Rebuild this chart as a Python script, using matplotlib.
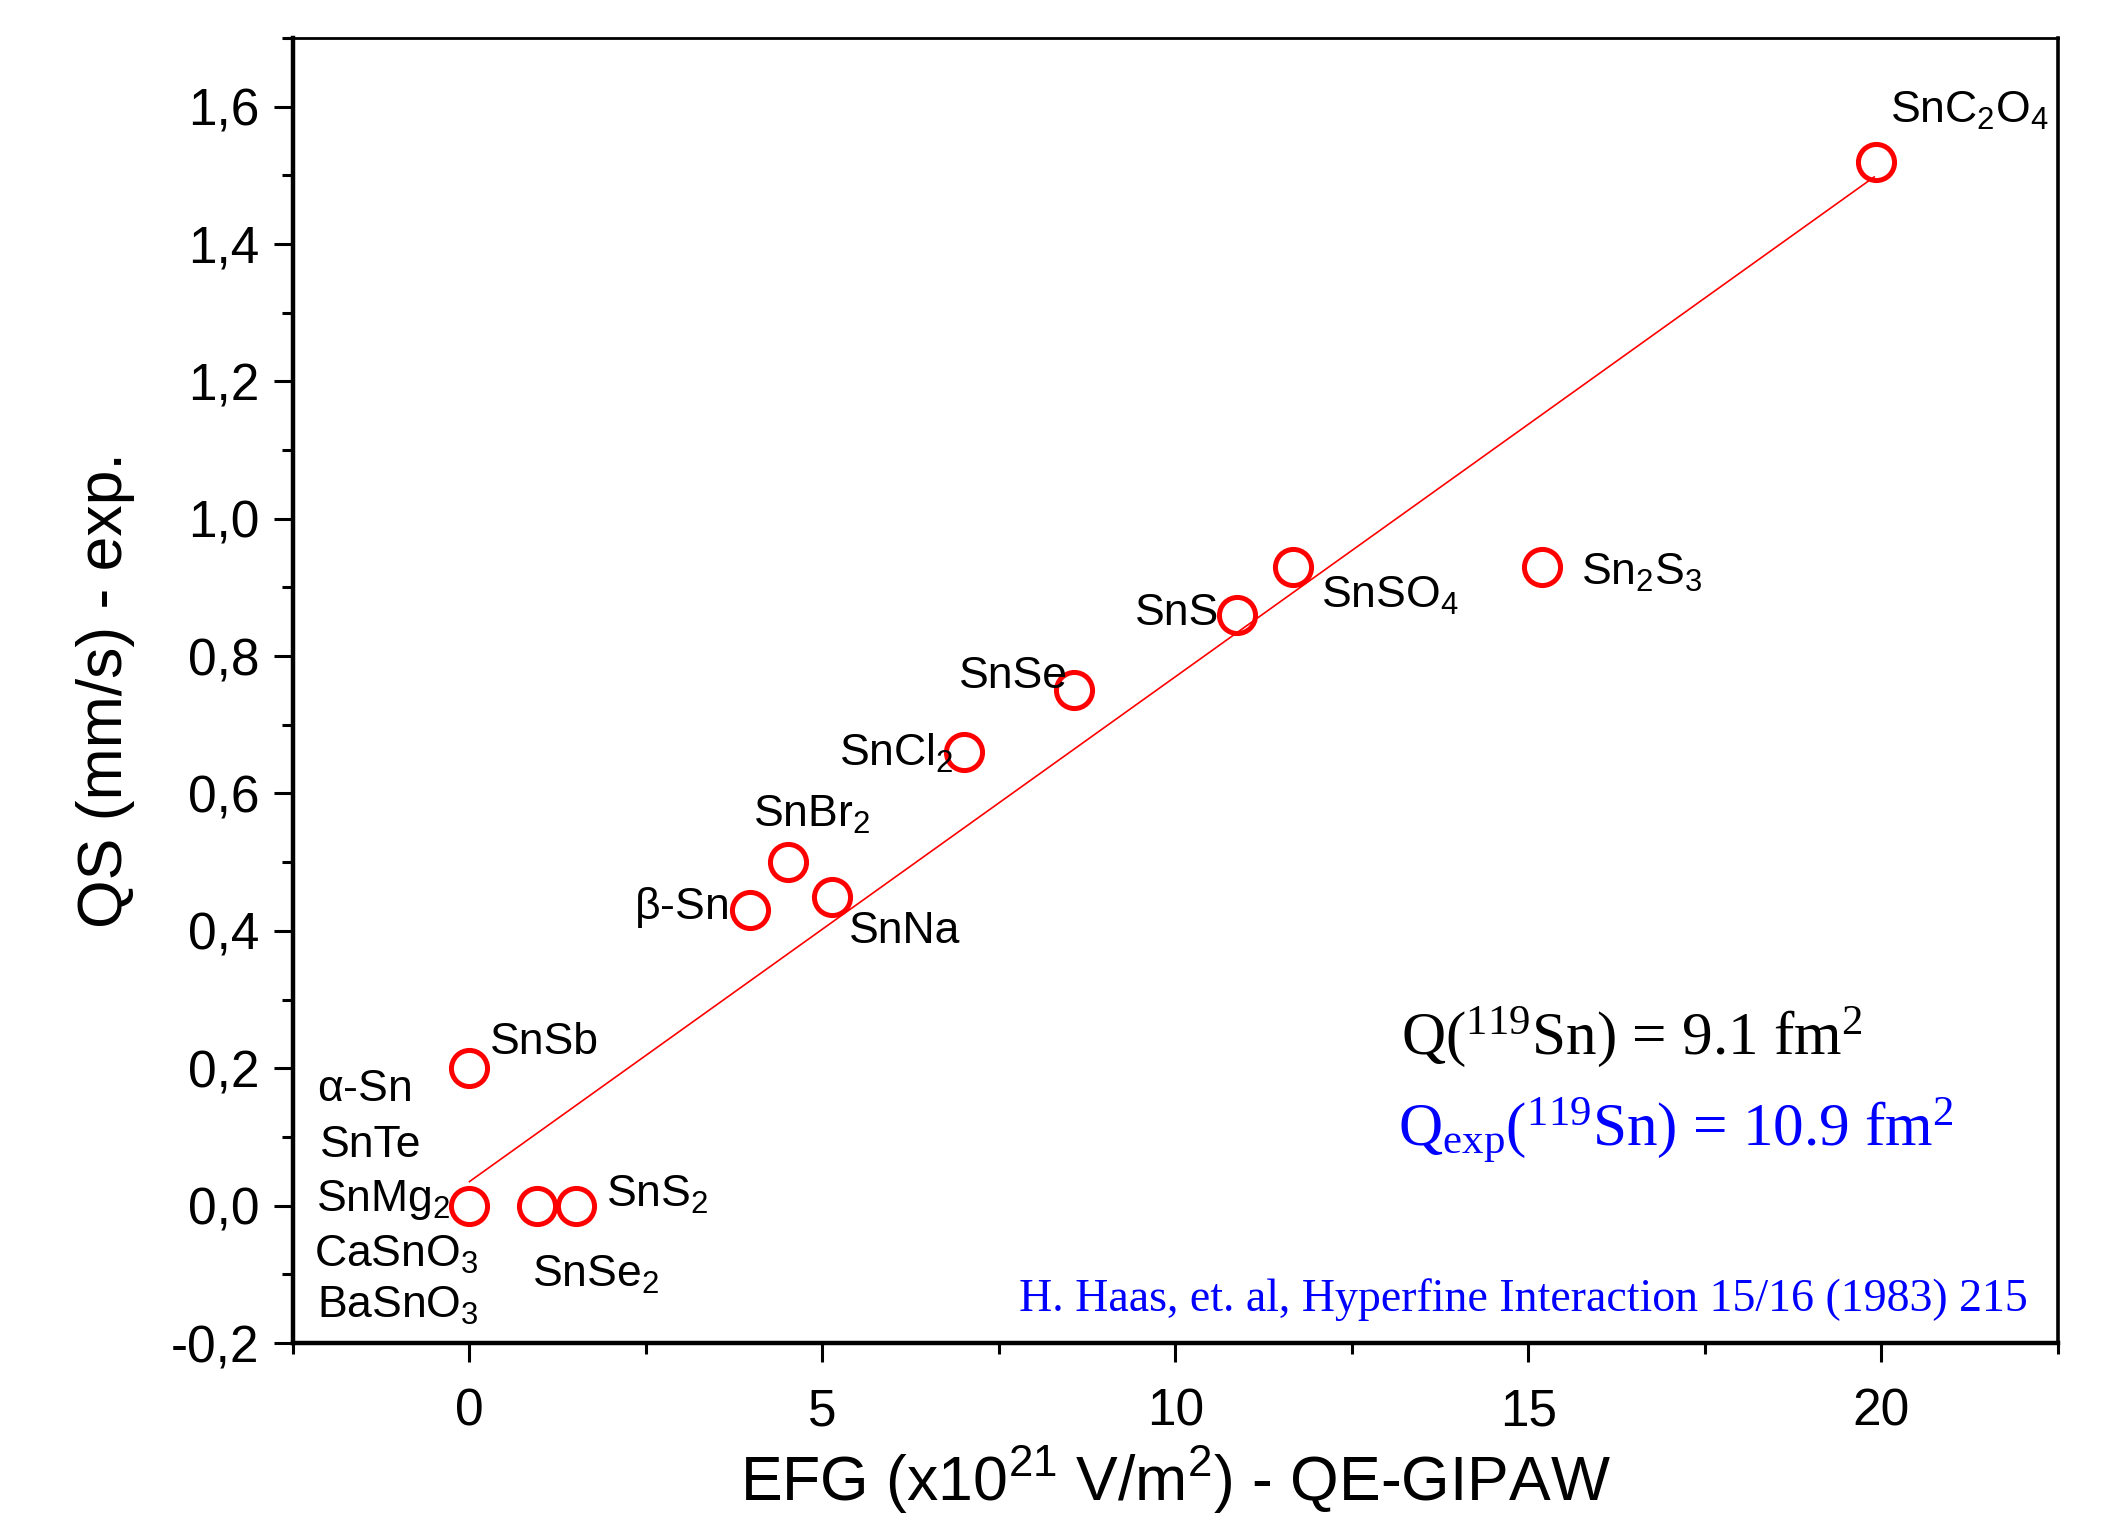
import matplotlib
matplotlib.use("Agg")
import matplotlib.pyplot as plt
from matplotlib.ticker import MultipleLocator, FuncFormatter

# ---- data ----
compounds = ["SnC2O4", "Sn2S3", "SnSO4", "SnS", "SnSe", "SnCl2", "SnBr2",
             "SnNa", "beta-Sn", "SnSb", "alpha-Sn/SnTe/SnMg2/CaSnO3/BaSnO3",
             "SnSe2", "SnS2"]
efg = [19.92, 15.19, 11.67, 10.87, 8.56, 7.01, 4.51, 5.14, 3.97, 0.0, 0.0, 0.95, 1.51]
qs = [1.52, 0.93, 0.93, 0.86, 0.75, 0.66, 0.50, 0.45, 0.43, 0.20, 0.0, 0.0, 0.0]

fit_intercept = 0.035
fit_slope = 0.0735
fit_x = [0.0, 19.9]

# label text and placement (data coords, alignment)
labels = [
    (r"$\mathregular{SnC_2O_4}$", 20.13, 1.576, "left"),
    (r"$\mathregular{Sn_2S_3}$", 15.74, 0.904, "left"),
    (r"$\mathregular{SnSO_4}$", 12.07, 0.871, "left"),
    ("SnS", 10.62, 0.845, "right"),
    ("SnSe", 6.93, 0.753, "left"),
    (r"$\mathregular{SnCl_2}$", 5.23, 0.640, "left"),
    (r"$\mathregular{SnBr_2}$", 4.01, 0.552, "left"),
    (r"$\mathregular{\beta}$-Sn", 2.33, 0.418, "left"),
    ("SnNa", 5.37, 0.382, "left"),
    ("SnSb", 0.29, 0.221, "left"),
    (r"$\mathregular{\alpha}$-Sn", -2.16, 0.152, "left"),
    ("SnTe", -2.12, 0.071, "left"),
    (r"$\mathregular{SnMg_2}$", -2.18, -0.008, "left"),
    (r"$\mathregular{CaSnO_3}$", -2.20, -0.089, "left"),
    (r"$\mathregular{BaSnO_3}$", -2.16, -0.164, "left"),
    (r"$\mathregular{SnS_2}$", 1.93, -0.002, "left"),
    (r"$\mathregular{SnSe_2}$", 0.88, -0.118, "left"),
]

xticks = [0, 5, 10, 15, 20]
yticks = [-0.2, 0.0, 0.2, 0.4, 0.6, 0.8, 1.0, 1.2, 1.4, 1.6]

plt.rcParams["font.family"] = ["Liberation Sans", "DejaVu Sans"]

fig = plt.figure(figsize=(21.17, 15.17), dpi=100)
ax = fig.add_axes([0.1384, 0.1147, 0.8336, 0.8603])

# fit line
ax.plot(fit_x, [fit_intercept + fit_slope * v for v in fit_x],
        color="#ff0000", lw=1.2, zorder=2)
# data points
ax.plot(efg, qs, linestyle="none", marker="o", markersize=26,
        markerfacecolor="none", markeredgecolor="#ff0000",
        markeredgewidth=3.6, zorder=3)

for txt, lx, ly, ha in labels:
    ax.text(lx, ly, txt, fontsize=32, ha=ha, va="baseline", color="black",
            zorder=4)

ax.text(13.2, 0.221, r"Q($\mathregular{^{119}}$Sn) = 9.1 fm$\mathregular{^2}$",
        fontsize=44, family="Liberation Serif", color="black", va="baseline")
ax.text(13.16, 0.087, r"Q$\mathregular{_{exp}}$($\mathregular{^{119}}$Sn) = 10.9 fm$\mathregular{^2}$",
        fontsize=44, family="Liberation Serif", color="#0000ff", va="baseline")
ax.text(22.08, -0.154, "H. Haas, et. al, Hyperfine Interaction 15/16 (1983) 215",
        fontsize=33, family="Liberation Serif", color="#0000ff",
        ha="right", va="baseline")

ax.set_xlim(-2.5, 22.5)
ax.set_ylim(-0.2, 1.70)
ax.set_xticks(xticks)
ax.set_yticks(yticks)
ax.xaxis.set_minor_locator(MultipleLocator(2.5))
ax.yaxis.set_minor_locator(MultipleLocator(0.1))
ax.yaxis.set_major_formatter(FuncFormatter(lambda v, p: f"{v:.1f}".replace(".", ",")))
ax.xaxis.set_major_formatter(FuncFormatter(lambda v, p: f"{v:.0f}"))

ax.tick_params(which="major", direction="out", length=14, width=2.2,
               labelsize=37, top=False, right=False)
ax.tick_params(axis="y", which="major", pad=10)
ax.tick_params(axis="x", which="major", pad=18)
ax.tick_params(which="minor", direction="out", length=8, width=2.2,
               top=False, right=False)

for side, lw in [("left", 3.2), ("bottom", 3.2), ("top", 2.0), ("right", 2.6)]:
    ax.spines[side].set_linewidth(lw)

ax.set_xlabel(r"EFG (x10$\mathregular{^{21}}$ V/m$\mathregular{^2}$) - QE-GIPAW",
              fontsize=45, labelpad=6)
ax.set_ylabel("QS (mm/s) - exp.", fontsize=45, labelpad=26)

fig.savefig("out.png", dpi=100)
